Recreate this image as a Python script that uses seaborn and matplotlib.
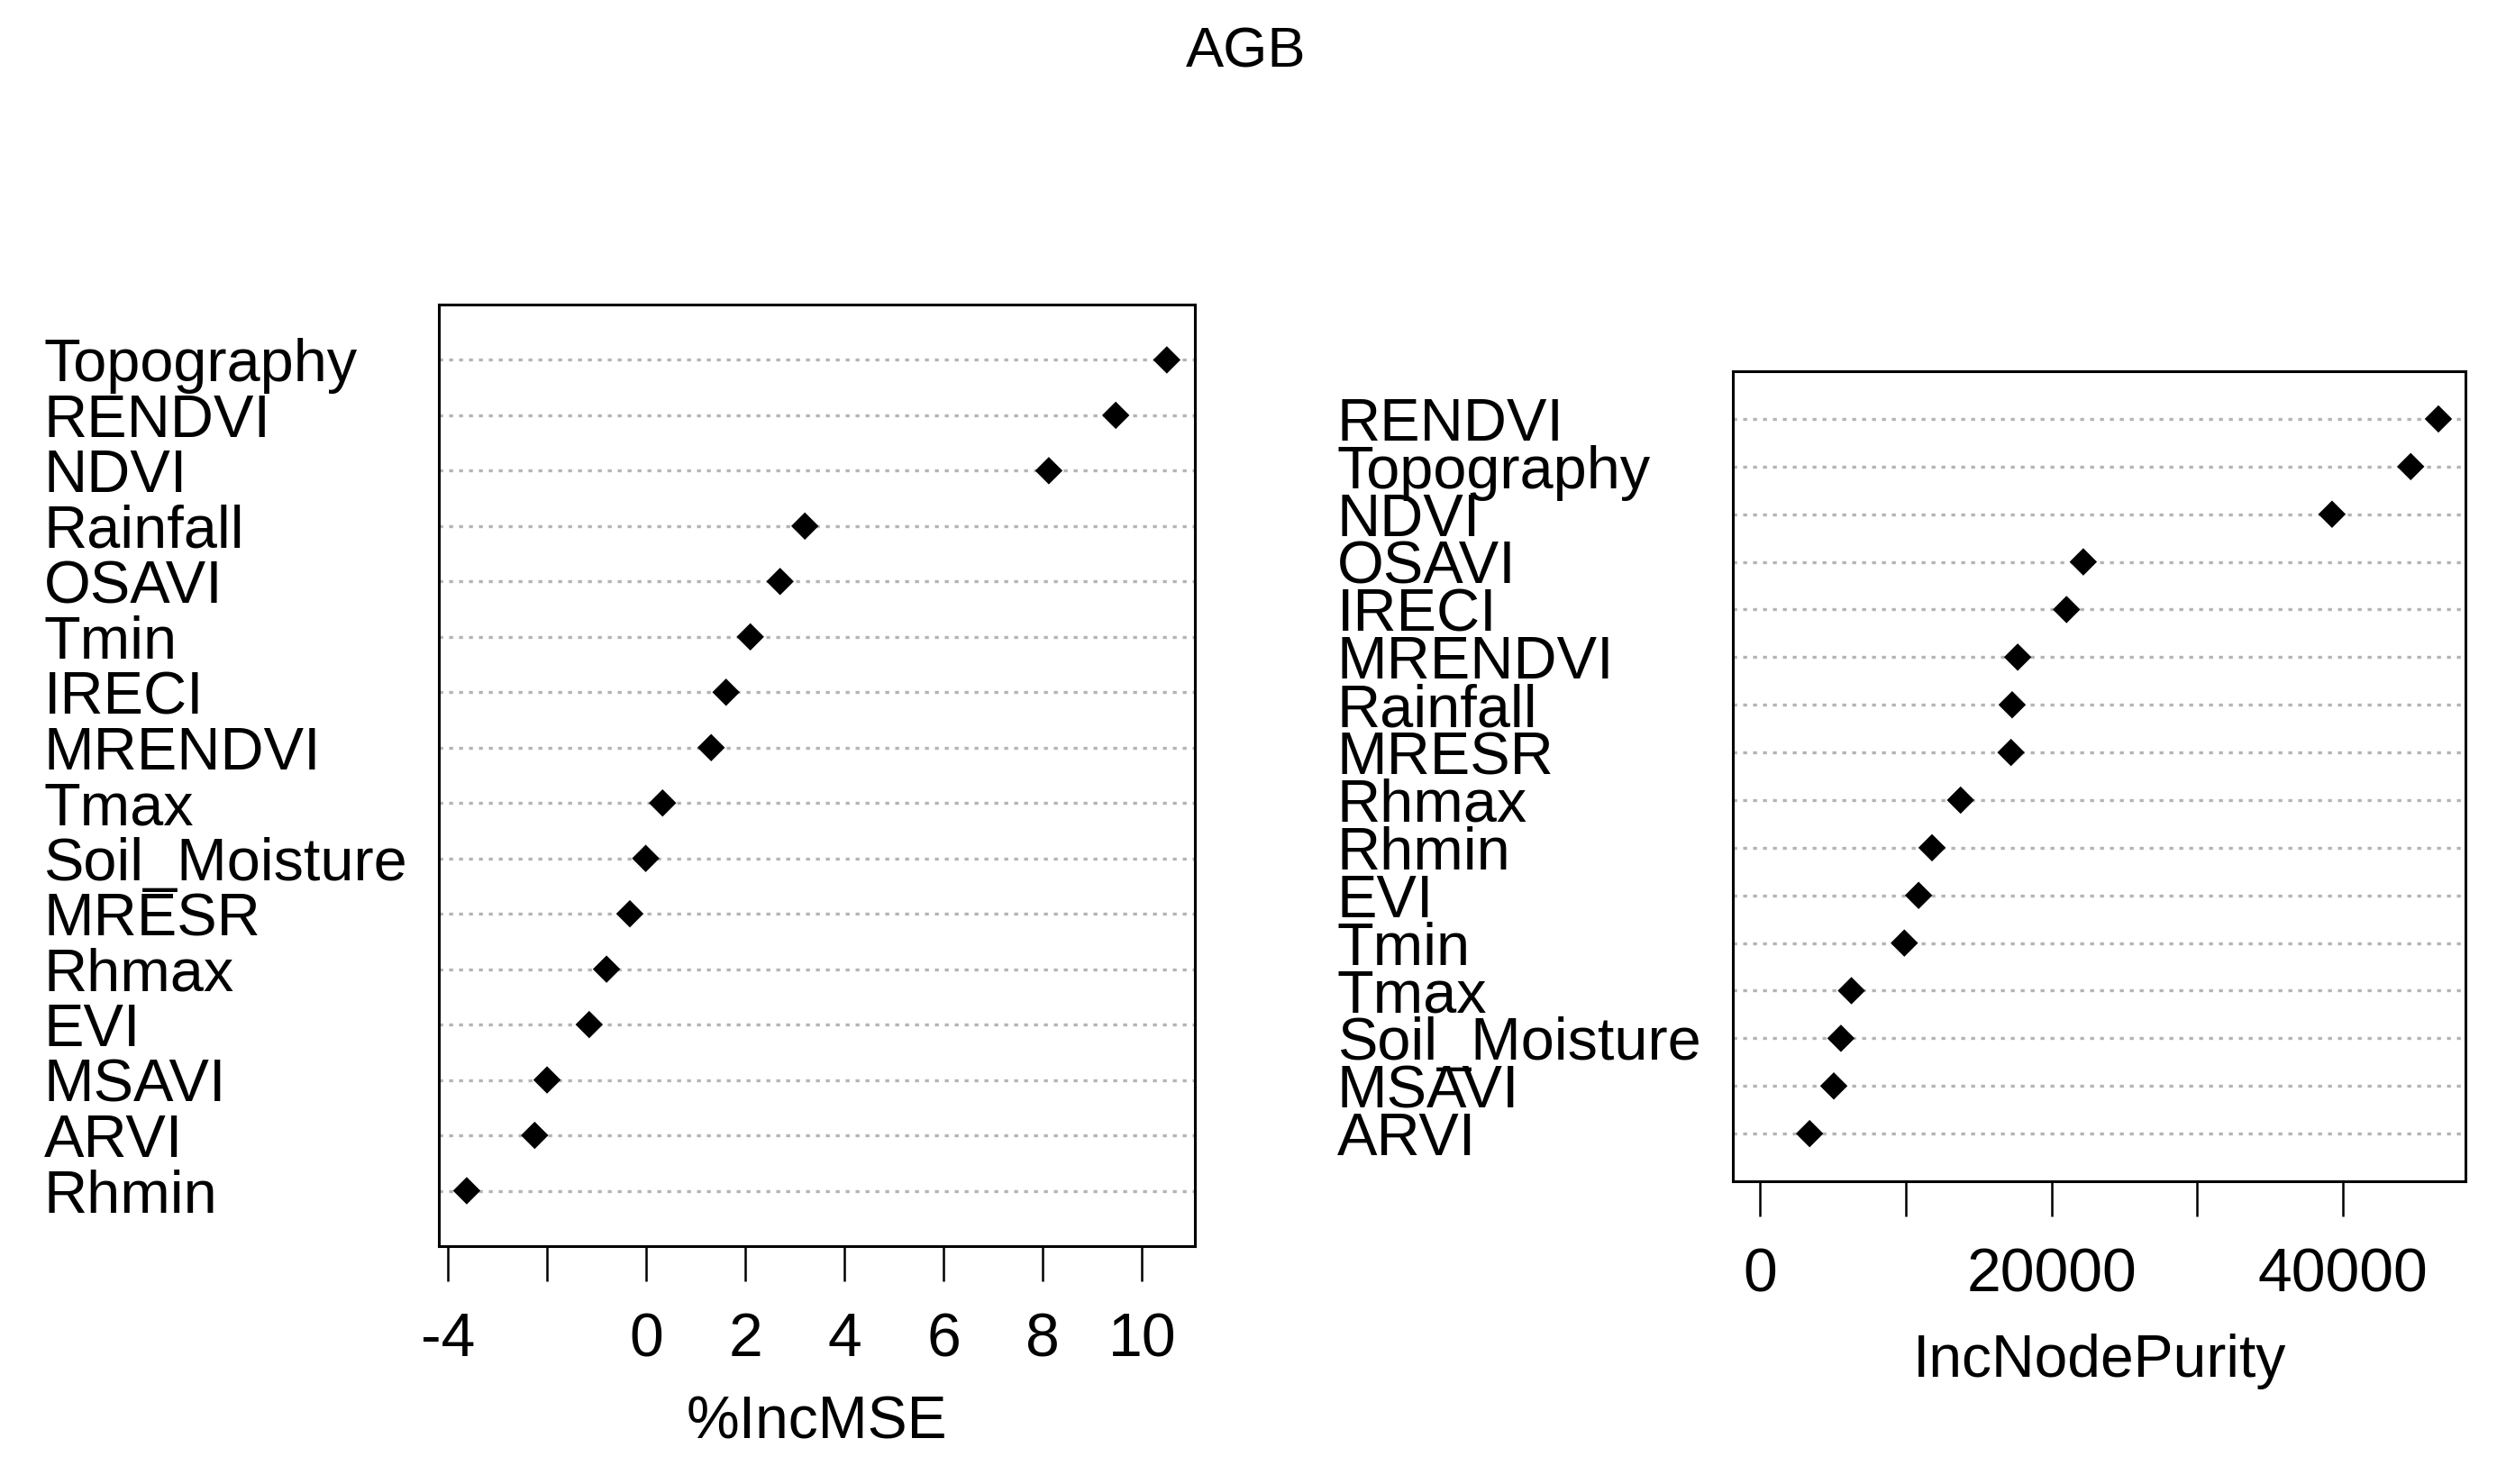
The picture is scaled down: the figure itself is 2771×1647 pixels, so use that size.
import numpy as np
import pandas as pd
import seaborn as sns
import matplotlib
matplotlib.use("Agg")
import matplotlib.pyplot as plt
from matplotlib import transforms

# Variable importance, ordered top to bottom as in the chart
mse_vars = ["Topography", "RENDVI", "NDVI", "Rainfall", "OSAVI", "Tmin", "IRECI",
            "MRENDVI", "Tmax", "Soil_Moisture", "MRESR", "Rhmax", "EVI", "MSAVI",
            "ARVI", "Rhmin"]
mse_vals = [10.5, 9.47, 8.12, 3.2, 2.7, 2.1, 1.61, 1.31, 0.33, -0.01, -0.33,
            -0.8, -1.15, -2.0, -2.25, -3.62]

purity_vars = ["RENDVI", "Topography", "NDVI", "OSAVI", "IRECI", "MRENDVI",
               "Rainfall", "MRESR", "Rhmax", "Rhmin", "EVI", "Tmin", "Tmax",
               "Soil_Moisture", "MSAVI", "ARVI"]
purity_vals = [46550, 44650, 39250, 22180, 21030, 17680, 17300, 17220, 13760,
               11800, 10880, 9900, 6270, 5550, 5060, 3400]

mse_ticks = [-4, -2, 0, 2, 4, 6, 8, 10]
mse_ticklabels = ["-4", "", "0", "2", "4", "6", "8", "10"]
purity_ticks = [0, 10000, 20000, 30000, 40000]
purity_ticklabels = ["0", "", "20000", "", "40000"]

sns.set_style("white")
plt.rcParams["font.family"] = ["Liberation Sans", "DejaVu Sans"]
plt.rcParams["text.color"] = "black"
plt.rcParams["xtick.color"] = "black"
plt.rcParams["axes.labelcolor"] = "black"

fig = plt.figure(figsize=(27.71, 16.47), dpi=100)
ax1 = fig.add_axes([0.1757, 0.1603, 0.3028, 0.6345])
ax2 = fig.add_axes([0.6940, 0.2040, 0.2934, 0.5458])

diamond = [(0, 1), (1, 0), (0, -1), (-1, 0)]


def dotchart(ax, names, vals, xmin, ticks, ticklabels, xlabel, label_x, label_y):
    n = len(names)
    df = pd.DataFrame({"var": names, "val": vals, "pos": np.arange(n, 0, -1)})
    for p in df["pos"]:
        ax.axhline(p, color="#b4b4b4", lw=2.4, ls=(0, (1.3, 2.0)), zorder=1)
    sns.scatterplot(data=df, x="val", y="pos", ax=ax, marker=diamond, s=480,
                    color="black", edgecolor="none", zorder=3, legend=False)
    lo = xmin
    hi = max(vals)
    pad = (hi - lo) * 0.04
    ax.set_xlim(lo - pad, hi + pad)
    ax.set_ylim(0, n + 1)
    ax.set_yticks([])
    ax.set_ylabel("")
    ax.set_xticks(ticks, ticklabels)
    ax.tick_params(axis="x", direction="out", length=28, width=1.8, pad=24,
                   labelsize=49, bottom=True, color="black")
    for s in ax.spines.values():
        s.set_visible(True)
        s.set_color("black")
        s.set_linewidth(2.2)
    ax.set_xlabel(xlabel, fontsize=47.5)
    ax.xaxis.label.set_va("center")
    ax.xaxis.set_label_coords(0.5, label_y)
    tr = transforms.blended_transform_factory(fig.transFigure, ax.transData)
    for name, p in zip(df["var"], df["pos"]):
        ax.text(label_x, p, name, transform=tr, ha="left", va="center_baseline",
                fontsize=48, clip_on=False)


dotchart(ax1, mse_vars, mse_vals, min(mse_vals), mse_ticks, mse_ticklabels,
         "%IncMSE", 0.0175, -0.188)
dotchart(ax2, purity_vars, purity_vals, 0, purity_ticks, purity_ticklabels,
         "IncNodePurity", 0.5355, -0.222)

fig.text(0.499, 0.965, "AGB", ha="center", va="center", fontsize=45.5)

fig.savefig("out.png", dpi=100, facecolor="white")
